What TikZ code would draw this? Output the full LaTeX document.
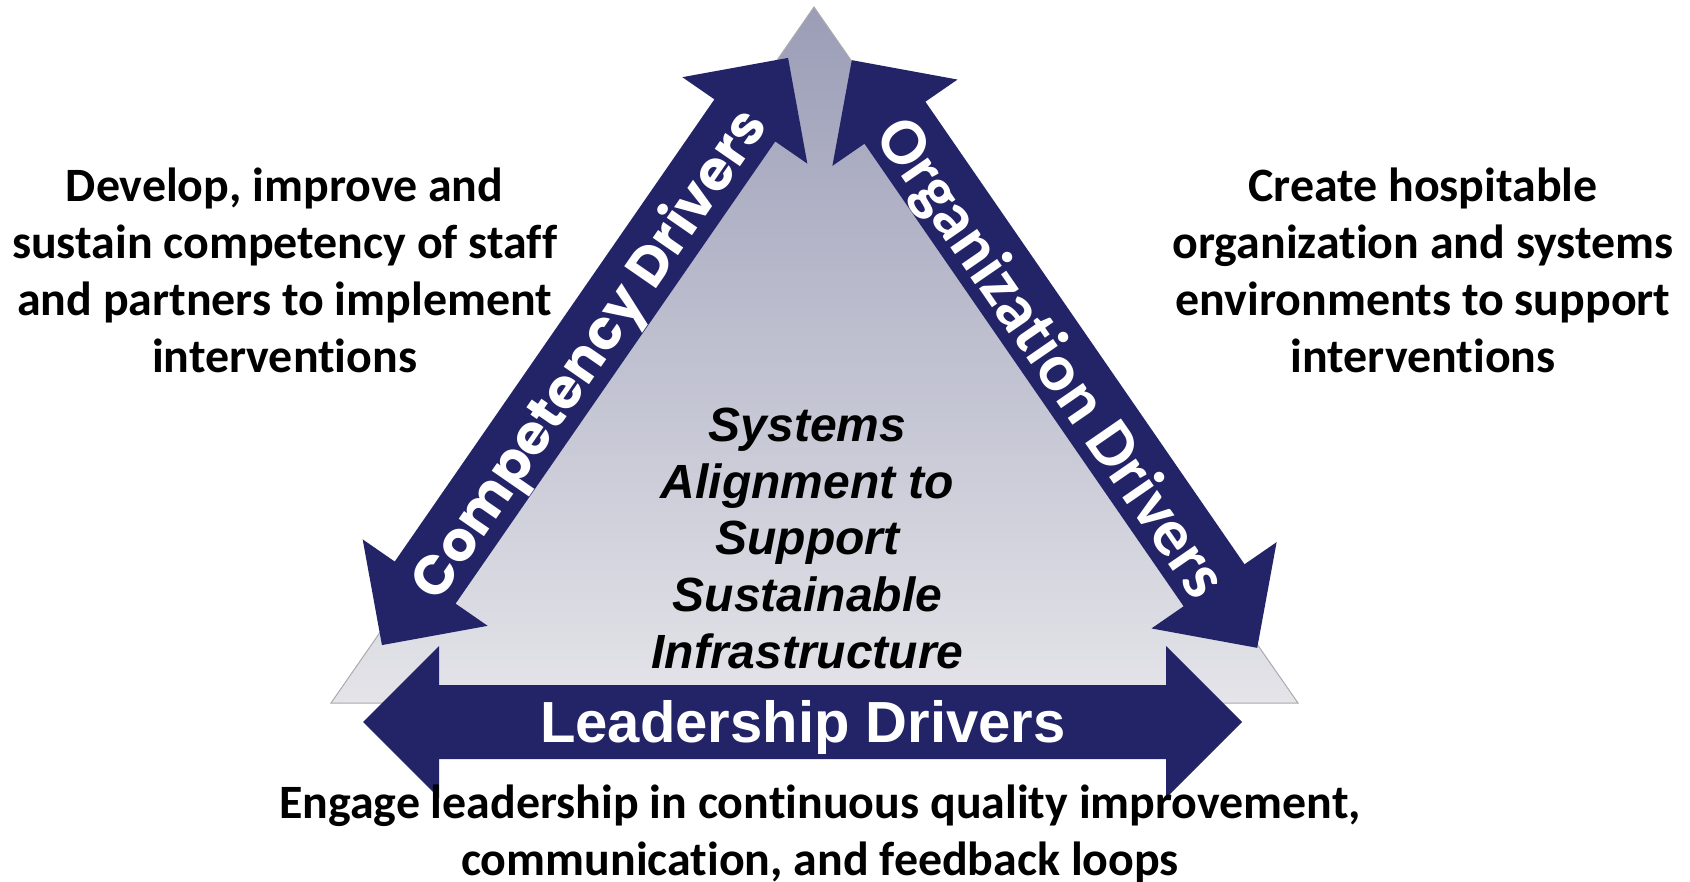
\documentclass[tikz,border=0pt]{standalone}
\usepackage{fontspec}
\newfontfamily\calfont{Carlito}[Ligatures=NoCommon]
\newfontfamily\arialfont{Liberation Sans}
\newfontfamily\popfont{Poppins}
\definecolor{navy}{RGB}{35,35,104}
\definecolor{tritop}{RGB}{155,157,183}
\definecolor{tribot}{RGB}{228,228,233}
\definecolor{triedge}{RGB}{170,170,175}
\newcommand\DArrow[4]{%
  \begin{scope}[shift={(#1,#2)},rotate=#3]
    \fill[navy] (-#4,0) -- (-#4+76,-76) -- (-#4+76,-37) -- (#4-76,-37) -- (#4-76,-76)
      -- (#4,0) -- (#4-76,76) -- (#4-76,37) -- (-#4+76,37) -- (-#4+76,76) -- cycle;
  \end{scope}}
\tikzset{
  blktext/.style={font=\calfont\bfseries\fontsize{47.9}{56.9}\selectfont, align=center, inner sep=0pt, anchor=base, text=black},
  midtext/.style={font=\arialfont\bfseries\itshape\fontsize{48}{56.8}\selectfont, align=center, inner sep=0pt, anchor=base, text=black},
  arrowlabel/.style={text=white, inner sep=0pt, text depth=0pt, anchor=center}
}
\begin{document}
\begin{tikzpicture}[x=1pt,y=-1pt]
\useasboundingbox (0,0) rectangle (1690,882);
\shade[top color=tritop, bottom color=tribot, draw=triedge, line width=1pt]
  (814,7) -- (331,703) -- (1298,703) -- cycle;
\DArrow{585}{351.5}{55.33}{357}
\DArrow{1054.5}{354}{-55.4}{357}
\DArrow{802.5}{722}{0}{439.5}
\node[arrowlabel, rotate=55.33, text height=38.5pt, font=\popfont\bfseries\fontsize{55}{60}\selectfont] (comp) at (588,353) {Competency Drivers};
\node[arrowlabel, rotate=-55.4, text height=43pt, font=\calfont\bfseries\fontsize{67}{70}\selectfont] (org) at (1052,357) {Organization Drivers};
\node[arrowlabel, text height=41.5pt, font=\arialfont\bfseries\fontsize{58}{60}\selectfont] (lead) at (803,722) {Leadership Drivers};
\node[midtext] (center) at (807.5,668.5) {Systems\\Alignment to\\Support\\Sustainable\\Infrastructure};
\node[blktext] (lefttxt) at (284.6,372.5) {Develop, improve and\\sustain competency of staff\\and partners to implement\\interventions};
\node[blktext] (righttxt) at (1423,372.5) {Create hospitable\\organization and systems\\environments to support\\interventions};
\node[blktext] (bottomtxt) at (820,875) {Engage leadership in continuous quality improvement,\\communication, and feedback loops};
\end{tikzpicture}
\end{document}
